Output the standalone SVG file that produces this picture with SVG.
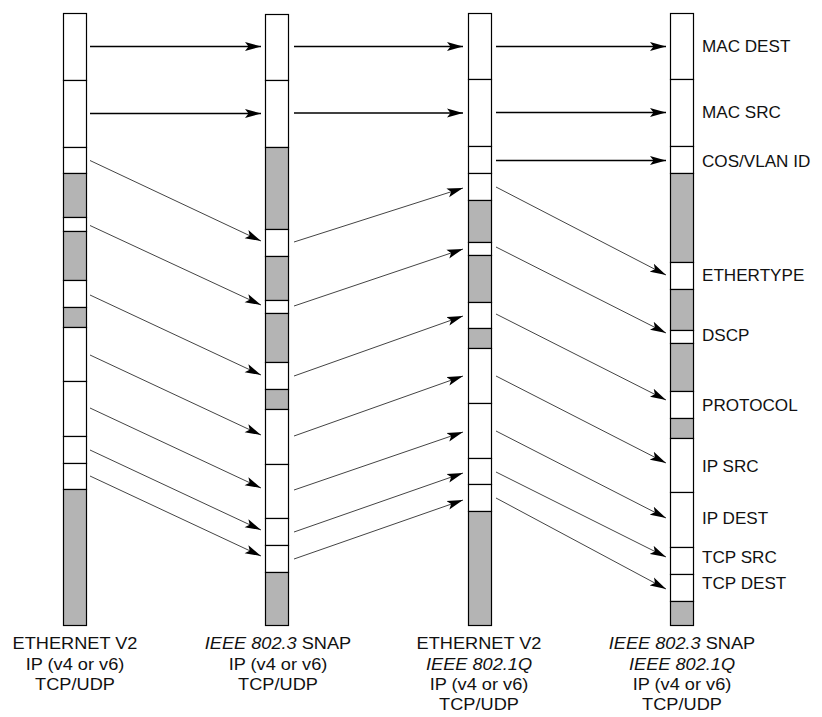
<svg xmlns="http://www.w3.org/2000/svg" width="822" height="717" viewBox="0 0 822 717">
<style>
.w{fill:#fff;stroke:#000;stroke-width:1.2}
.g{fill:#b4b4b4;stroke:#000;stroke-width:1.2}
.h{stroke:#000;stroke-width:1.3;fill:none;marker-end:url(#ah)}
.d{stroke:#444;stroke-width:1;fill:none;marker-end:url(#ah)}
.lbl{font-family:"Liberation Sans",Arial,sans-serif;font-size:16px;fill:#111}
.bl{font-family:"Liberation Sans",Arial,sans-serif;font-size:17px;fill:#111;text-anchor:middle}
.it{font-style:italic}
</style>
<defs>
<marker id="ah" markerUnits="userSpaceOnUse" markerWidth="17" markerHeight="10" refX="16" refY="5" orient="auto">
<path d="M0,0.5 L16,5 L0,9.5 L3.5,5 Z" fill="#000"/>
</marker>
</defs>
<rect width="822" height="717" fill="#fff"/>
<g id="col1">
<rect class="w" x="63.5" y="13.5" width="23" height="67"/>
<rect class="w" x="63.5" y="80.5" width="23" height="67"/>
<rect class="w" x="63.5" y="147.5" width="23" height="26"/>
<rect class="g" x="63.5" y="173.5" width="23" height="44"/>
<rect class="w" x="63.5" y="217.5" width="23" height="14"/>
<rect class="g" x="63.5" y="231.5" width="23" height="49"/>
<rect class="w" x="63.5" y="280.5" width="23" height="27"/>
<rect class="g" x="63.5" y="307.5" width="23" height="20"/>
<rect class="w" x="63.5" y="327.5" width="23" height="54"/>
<rect class="w" x="63.5" y="381.5" width="23" height="55"/>
<rect class="w" x="63.5" y="436.5" width="23" height="27"/>
<rect class="w" x="63.5" y="463.5" width="23" height="26"/>
<rect class="g" x="63.5" y="489.5" width="23" height="136"/>
<text class="bl" transform="translate(75,0) scale(1.07,1)"><tspan x="0" y="649">ETHERNET V2</tspan><tspan x="0" y="670">IP (v4 or v6)</tspan><tspan x="0" y="690">TCP/UDP</tspan></text>
</g>
<g id="col2">
<rect class="w" x="265.5" y="14.5" width="23" height="66"/>
<rect class="w" x="265.5" y="80.5" width="23" height="67"/>
<rect class="g" x="265.5" y="147.5" width="23" height="82"/>
<rect class="w" x="265.5" y="229.5" width="23" height="27"/>
<rect class="g" x="265.5" y="256.5" width="23" height="44"/>
<rect class="w" x="265.5" y="300.5" width="23" height="13"/>
<rect class="g" x="265.5" y="313.5" width="23" height="49"/>
<rect class="w" x="265.5" y="362.5" width="23" height="27"/>
<rect class="g" x="265.5" y="389.5" width="23" height="20"/>
<rect class="w" x="265.5" y="409.5" width="23" height="55"/>
<rect class="w" x="265.5" y="464.5" width="23" height="54"/>
<rect class="w" x="265.5" y="518.5" width="23" height="27"/>
<rect class="w" x="265.5" y="545.5" width="23" height="27"/>
<rect class="g" x="265.5" y="572.5" width="23" height="53"/>
<text class="bl" transform="translate(278,0) scale(1.07,1)"><tspan x="0" y="649"><tspan class="it">IEEE 802.3</tspan> SNAP</tspan><tspan x="0" y="670">IP (v4 or v6)</tspan><tspan x="0" y="690">TCP/UDP</tspan></text>
</g>
<g id="col3">
<rect class="w" x="468.5" y="13.5" width="23" height="66"/>
<rect class="w" x="468.5" y="79.5" width="23" height="67"/>
<rect class="w" x="468.5" y="146.5" width="23" height="27"/>
<rect class="w" x="468.5" y="173.5" width="23" height="27"/>
<rect class="g" x="468.5" y="200.5" width="23" height="42"/>
<rect class="w" x="468.5" y="242.5" width="23" height="13"/>
<rect class="g" x="468.5" y="255.5" width="23" height="47"/>
<rect class="w" x="468.5" y="302.5" width="23" height="26"/>
<rect class="g" x="468.5" y="328.5" width="23" height="20"/>
<rect class="w" x="468.5" y="348.5" width="23" height="55"/>
<rect class="w" x="468.5" y="403.5" width="23" height="55"/>
<rect class="w" x="468.5" y="458.5" width="23" height="26"/>
<rect class="w" x="468.5" y="484.5" width="23" height="27"/>
<rect class="g" x="468.5" y="511.5" width="23" height="114"/>
<text class="bl" transform="translate(479,0) scale(1.07,1)"><tspan x="0" y="649">ETHERNET V2</tspan><tspan x="0" y="670" class="it">IEEE 802.1Q</tspan><tspan x="0" y="690">IP (v4 or v6)</tspan><tspan x="0" y="710">TCP/UDP</tspan></text>
</g>
<g id="col4">
<rect class="w" x="670.5" y="13.5" width="23" height="66"/>
<rect class="w" x="670.5" y="79.5" width="23" height="67"/>
<rect class="w" x="670.5" y="146.5" width="23" height="27"/>
<rect class="g" x="670.5" y="173.5" width="23" height="89"/>
<rect class="w" x="670.5" y="262.5" width="23" height="27"/>
<rect class="g" x="670.5" y="289.5" width="23" height="41"/>
<rect class="w" x="670.5" y="330.5" width="23" height="13"/>
<rect class="g" x="670.5" y="343.5" width="23" height="48"/>
<rect class="w" x="670.5" y="391.5" width="23" height="27"/>
<rect class="g" x="670.5" y="418.5" width="23" height="20"/>
<rect class="w" x="670.5" y="438.5" width="23" height="54"/>
<rect class="w" x="670.5" y="492.5" width="23" height="55"/>
<rect class="w" x="670.5" y="547.5" width="23" height="27"/>
<rect class="w" x="670.5" y="574.5" width="23" height="27"/>
<rect class="g" x="670.5" y="601.5" width="23" height="24"/>
<text class="bl" transform="translate(682,0) scale(1.07,1)"><tspan x="0" y="649"><tspan class="it">IEEE 802.3</tspan> SNAP</tspan><tspan x="0" y="670" class="it">IEEE 802.1Q</tspan><tspan x="0" y="690">IP (v4 or v6)</tspan><tspan x="0" y="710">TCP/UDP</tspan></text>
</g>
<g id="labels">
<text class="lbl" transform="translate(702,0) scale(1.07,1)"><tspan x="0" y="52">MAC DEST</tspan><tspan x="0" y="118">MAC SRC</tspan><tspan x="0" y="167">COS/VLAN ID</tspan><tspan x="0" y="281">ETHERTYPE</tspan><tspan x="0" y="341">DSCP</tspan><tspan x="0" y="411">PROTOCOL</tspan><tspan x="0" y="472">IP SRC</tspan><tspan x="0" y="524">IP DEST</tspan><tspan x="0" y="563">TCP SRC</tspan><tspan x="0" y="589">TCP DEST</tspan></text>
</g>
<g id="connectors">
<line class="h" x1="90" y1="46.5" x2="261" y2="46.5"/>
<line class="h" x1="90" y1="113.5" x2="261" y2="113.5"/>
<line class="d" x1="90" y1="160.5" x2="261" y2="241"/>
<line class="d" x1="90" y1="225.5" x2="261" y2="305"/>
<line class="d" x1="90" y1="295" x2="261" y2="375"/>
<line class="d" x1="90" y1="355" x2="261" y2="435"/>
<line class="d" x1="90" y1="408" x2="261" y2="488"/>
<line class="d" x1="90" y1="450" x2="261" y2="530"/>
<line class="d" x1="90" y1="476" x2="261" y2="556"/>
<line class="h" x1="294" y1="46.5" x2="463" y2="46.5"/>
<line class="h" x1="294" y1="113" x2="463" y2="113"/>
<line class="d" x1="294" y1="242" x2="463" y2="188"/>
<line class="d" x1="294" y1="306" x2="463" y2="249"/>
<line class="d" x1="294" y1="376" x2="463" y2="316"/>
<line class="d" x1="294" y1="436" x2="463" y2="376"/>
<line class="d" x1="294" y1="490" x2="463" y2="432"/>
<line class="d" x1="294" y1="532" x2="463" y2="473"/>
<line class="d" x1="294" y1="559" x2="463" y2="500"/>
<line class="h" x1="496" y1="46.5" x2="666" y2="46.5"/>
<line class="h" x1="496" y1="112.5" x2="666" y2="112.5"/>
<line class="h" x1="496" y1="160.5" x2="666" y2="160.5"/>
<line class="d" x1="496" y1="187" x2="666" y2="275"/>
<line class="d" x1="496" y1="247" x2="666" y2="333"/>
<line class="d" x1="496" y1="314" x2="666" y2="400"/>
<line class="d" x1="496" y1="376" x2="666" y2="463"/>
<line class="d" x1="496" y1="431" x2="666" y2="518"/>
<line class="d" x1="496" y1="472" x2="666" y2="557"/>
<line class="d" x1="496" y1="498" x2="666" y2="589"/>
</g>
</svg>
